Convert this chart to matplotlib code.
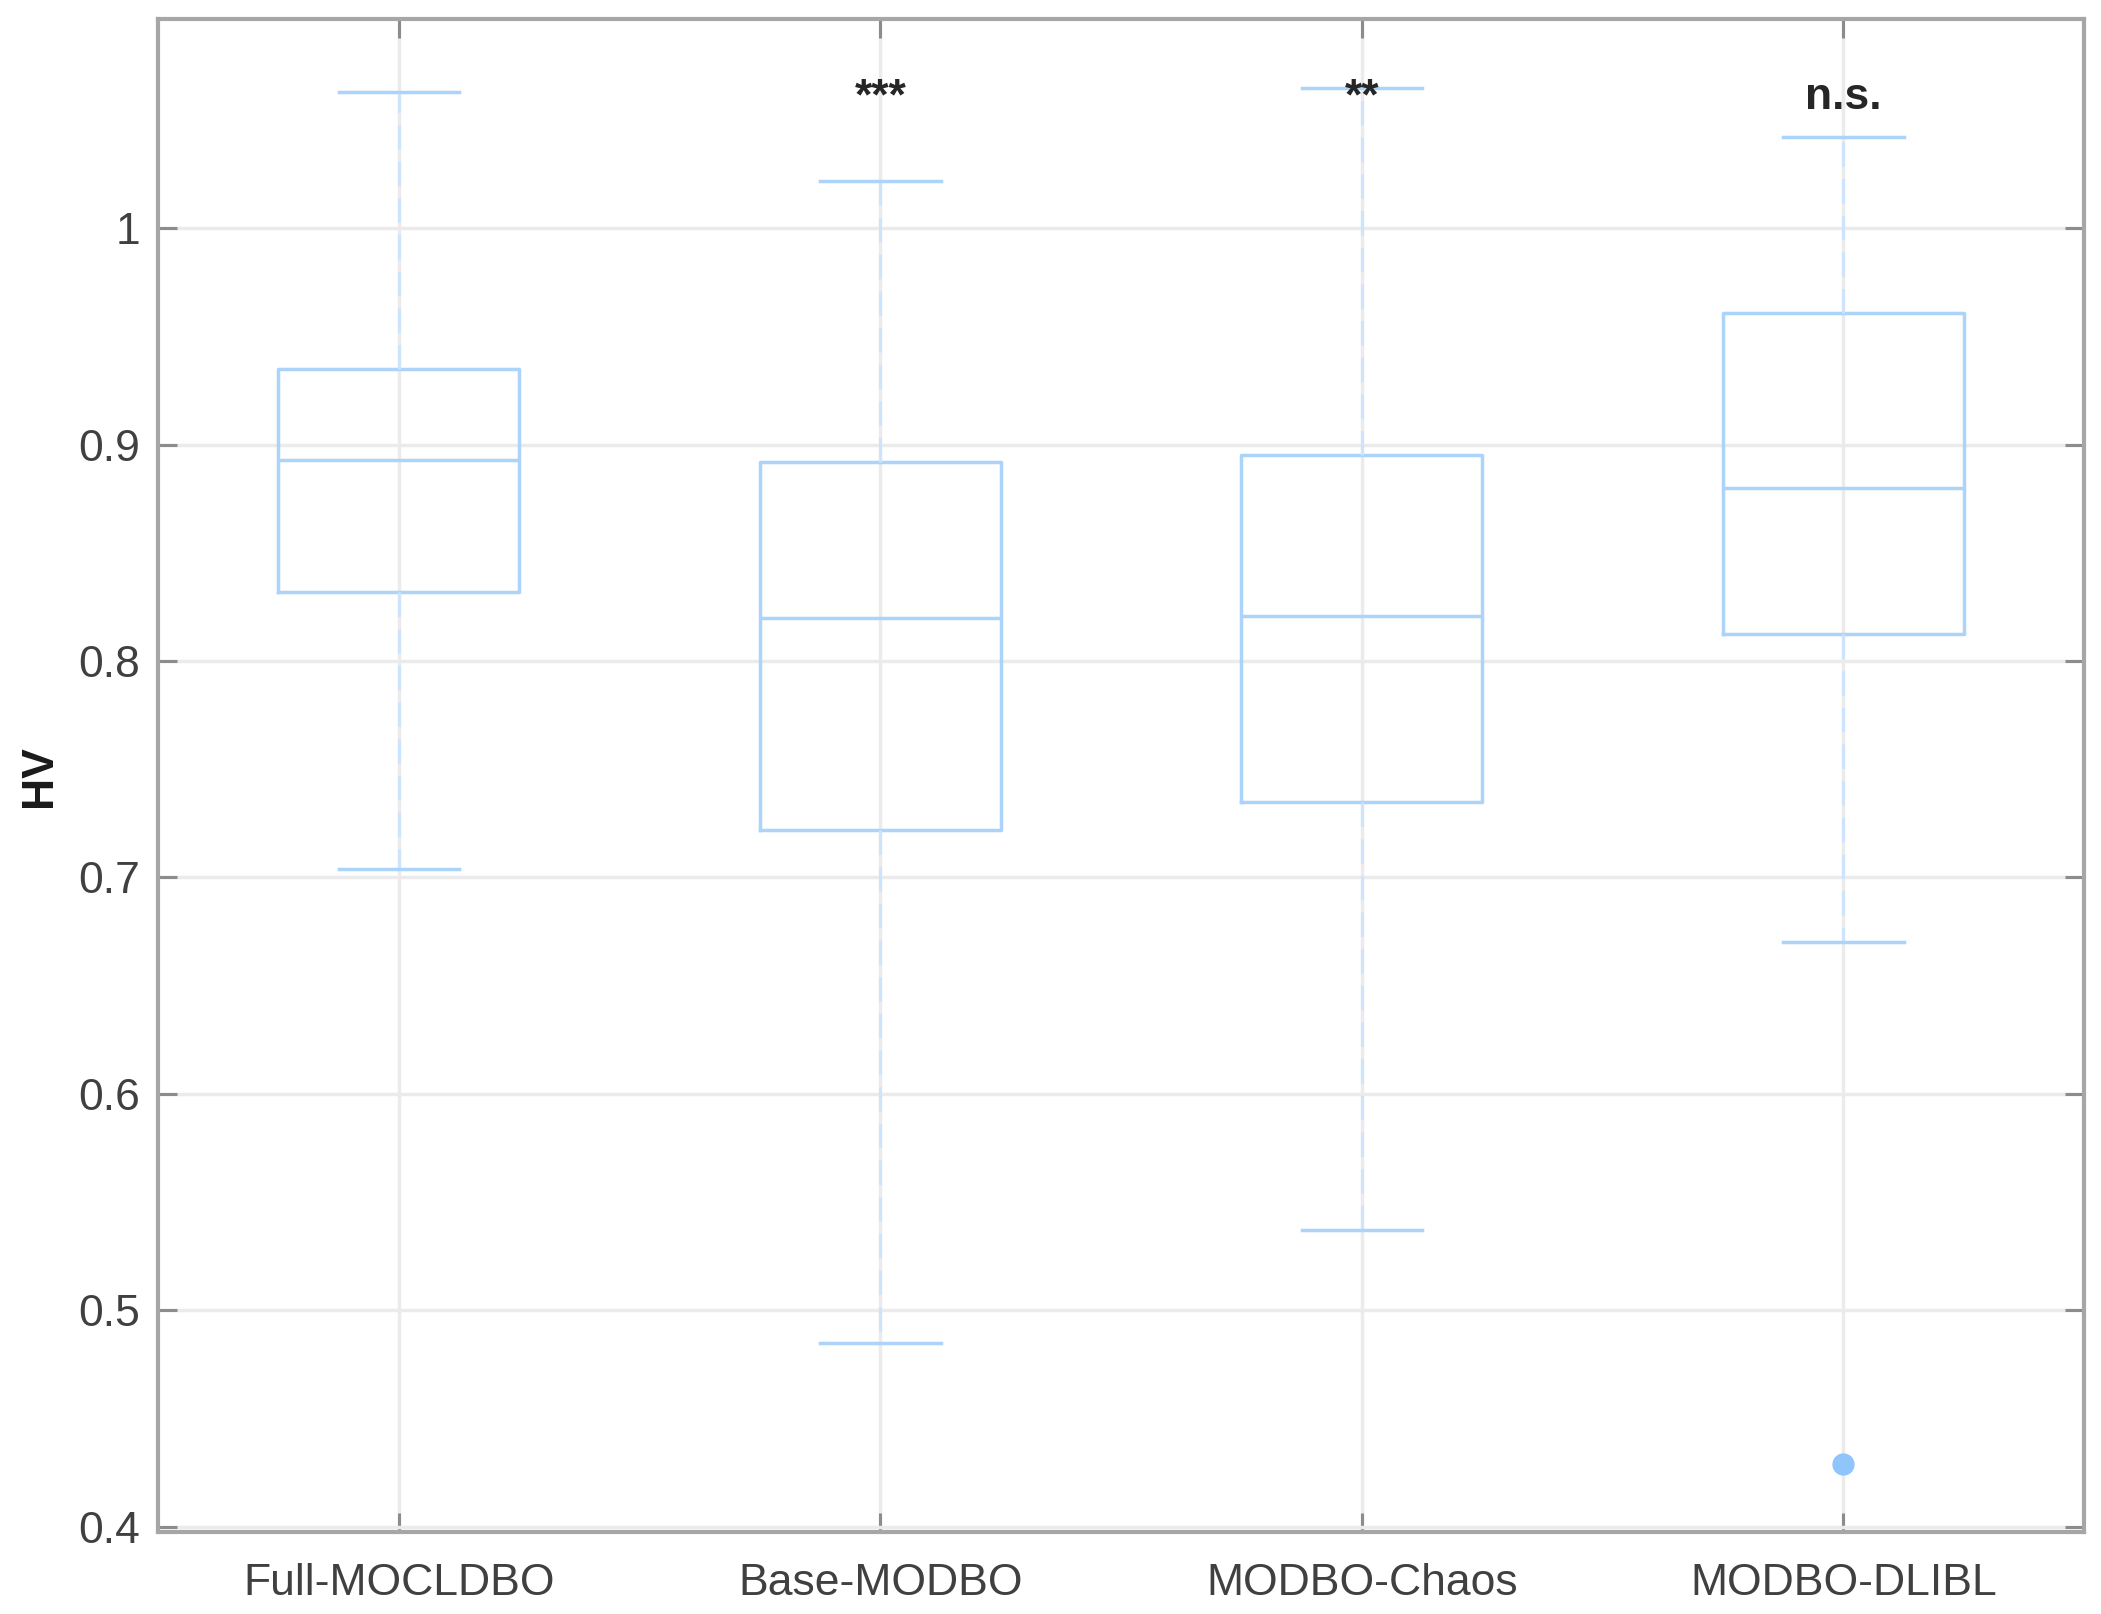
import matplotlib
matplotlib.use('Agg')
import matplotlib.pyplot as plt

plt.rcParams['font.family'] = ['Liberation Sans', 'DejaVu Sans']

# Данные
groups = ['Full-MOCLDBO', 'Base-MODBO', 'MODBO-Chaos', 'MODBO-DLIBL']
whisker_low = [0.704, 0.485, 0.537, 0.670]
q1 = [0.832, 0.722, 0.735, 0.8125]
medians = [0.893, 0.820, 0.821, 0.880]
q3 = [0.935, 0.892, 0.895, 0.961]
whisker_high = [1.063, 1.022, 1.065, 1.042]
outliers = [[], [], [], [0.429]]
signif = ['', '***', '**', 'n.s.']
yticks = [0.4, 0.5, 0.6, 0.7, 0.8, 0.9, 1.0]
ytick_labels = ['0.4', '0.5', '0.6', '0.7', '0.8', '0.9', '1']

box_color = '#acd3fa'
whisker_color = '#cde4fc'

stats = []
for i in range(len(groups)):
    stats.append({'whislo': whisker_low[i], 'q1': q1[i], 'med': medians[i],
                  'q3': q3[i], 'whishi': whisker_high[i], 'fliers': outliers[i]})

fig = plt.figure(figsize=(21.01, 16.14), dpi=100)
ax = fig.add_axes([0.0752, 0.0508, 0.9168, 0.9372])

positions = list(range(1, len(groups) + 1))
ax.bxp(stats, positions=positions, widths=0.5, showfliers=True,
       boxprops=dict(color=box_color, linewidth=2.5),
       medianprops=dict(color=box_color, linewidth=2.5),
       whiskerprops=dict(color=whisker_color, linewidth=2.2, linestyle=(0, (8, 4))),
       capprops=dict(color=box_color, linewidth=2.5),
       capwidths=0.25,
       flierprops=dict(marker='o', markersize=15, markerfacecolor='#8fc5fb',
                       markeredgecolor='#8fc5fb'))

for p, s in zip(positions, signif):
    if s:
        ax.text(p, 1.055, s, ha='center', va='baseline', fontsize=32,
                fontweight='bold', color='#262626')

ax.set_xlim(0.5, 4.5)
ax.set_ylim(0.3975, 1.0965)
ax.set_xticks(positions)
ax.set_xticklabels(groups)
ax.set_yticks(yticks)
ax.set_yticklabels(ytick_labels)

ax.grid(True, color='#ebebeb', linewidth=2.5)
ax.set_axisbelow(True)

for side in ['left', 'right', 'top', 'bottom']:
    ax.spines[side].set_color('#a6a6a6')
    ax.spines[side].set_linewidth(3)

ax.tick_params(axis='both', direction='in', length=14, width=2.2, color='#8c8c8c',
               labelsize=32, labelcolor='#404040', top=True, right=True)
ax.tick_params(axis='x', pad=22)
ax.tick_params(axis='y', pad=13)

ax.set_ylabel('HV', fontsize=32, fontweight='bold', color='#1a1a1a')
ax.yaxis.set_label_coords(-0.0613, 0.5)
ax.yaxis.label.set_verticalalignment('center')

fig.savefig('out.png', dpi=100, facecolor='white')
print("saved out.png")
